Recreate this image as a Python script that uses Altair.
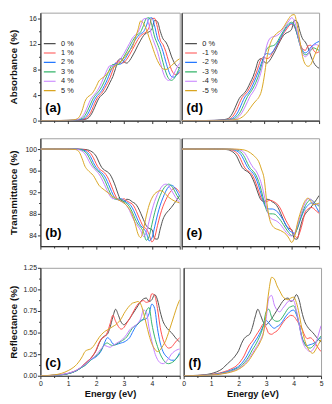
import altair as alt
import pandas as pd

# Photon energy grid (eV)
E = [0.0, 0.5, 1.0, 1.2, 1.3, 1.4, 1.5, 1.6, 1.7, 1.8,
     1.9, 2.0, 2.1, 2.2, 2.3, 2.4, 2.5, 2.6, 2.7, 2.8,
     2.9, 3.0, 3.1, 3.2, 3.3, 3.4, 3.5, 3.6, 3.7, 3.8,
     3.9, 4.0, 4.1, 4.2, 4.3, 4.4, 4.5, 4.6, 4.7, 4.8,
     4.9, 5.0]

POS_NAMES = ["0 %", "1 %", "2 %", "3 %", "4 %", "5 %"]
NEG_NAMES = ["0 %", "-1 %", "-2 %", "-3 %", "-4 %", "-5 %"]
COLORS = ["#505050", "#ff4d4d", "#2478ff", "#35b46a", "#c47dff", "#d9a521"]

# Absorbance (%)
abs_0 = [0, 0, 0.02, 0.03, 0.05, 0.08, 0.12, 0.2, 0.35, 0.8,
         1.6, 2.6, 3.5, 4.0, 4.4, 5.1, 6.0, 6.9, 8.2, 9.5,
         9.7, 9.2, 9.0, 9.4, 10.1, 10.9, 11.8, 12.6, 13.3, 13.7,
         13.9, 14.3, 15.7, 15.5, 14.0, 12.8, 12.3, 11.4, 10.1, 9.1,
         8.5, 8.2]
abs_p1 = [0, 0, 0.02, 0.04, 0.06, 0.1, 0.16, 0.28, 0.6, 1.2,
          2.2, 3.2, 3.9, 4.3, 5.0, 5.8, 6.7, 7.9, 9.0, 9.3,
          9.0, 9.1, 9.6, 10.3, 11.1, 11.9, 12.7, 13.3, 13.6, 13.9,
          14.6, 16.0, 16.0, 14.6, 12.6, 11.9, 10.8, 9.3, 8.0, 7.3,
          7.2, 7.6]
abs_p2 = [0, 0, 0.03, 0.05, 0.08, 0.13, 0.22, 0.45, 1.0, 1.9,
          2.9, 3.7, 4.2, 4.7, 5.5, 6.4, 7.5, 8.5, 9.0, 8.8,
          8.9, 9.4, 10.1, 10.9, 11.8, 12.6, 13.2, 13.6, 13.9, 14.8,
          16.0, 16.1, 14.8, 12.9, 12.0, 10.8, 9.2, 7.8, 6.9, 6.8,
          7.2, 7.9]
abs_p3 = [0, 0, 0.03, 0.06, 0.1, 0.18, 0.35, 0.8, 1.6, 2.6,
          3.5, 4.1, 4.6, 5.3, 6.2, 7.2, 8.2, 8.8, 8.7, 8.8,
          9.3, 10.0, 10.8, 11.6, 12.4, 13.1, 13.5, 13.9, 14.9, 16.0,
          16.1, 14.9, 13.1, 12.0, 10.8, 9.1, 7.6, 6.6, 6.3, 6.6,
          7.4, 8.4]
abs_p4 = [0, 0, 0.04, 0.08, 0.14, 0.28, 0.6, 1.3, 2.3, 3.3,
          3.9, 4.4, 5.1, 6.0, 7.0, 8.0, 8.6, 8.6, 8.7, 9.2,
          9.8, 10.5, 11.3, 12.1, 12.9, 13.4, 13.8, 14.8, 15.9, 16.0,
          14.9, 13.2, 12.0, 10.8, 9.2, 7.6, 6.6, 6.3, 6.6, 7.4,
          8.3, 9.0]
abs_p5 = [0, 0, 0.05, 0.12, 0.25, 0.6, 1.6, 3.0, 3.7, 4.0,
          4.5, 5.3, 6.2, 6.6, 6.9, 7.4, 7.9, 8.3, 8.6, 9.0,
          9.3, 9.8, 10.4, 11.0, 11.5, 12.8, 14.2, 15.6, 15.2, 14.3,
          13.0, 11.8, 10.5, 9.4, 8.6, 8.1, 8.0, 8.2, 8.6, 9.0,
          9.4, 9.7]
abs_m1 = [0, 0, 0.02, 0.03, 0.04, 0.06, 0.09, 0.14, 0.22, 0.4,
          0.9, 1.7, 2.7, 3.6, 4.1, 4.6, 5.4, 6.3, 7.3, 8.6,
          9.7, 9.9, 9.7, 9.9, 10.6, 11.3, 12.0, 12.8, 13.6, 14.2,
          14.8, 15.1, 14.7, 13.6, 12.2, 11.2, 11.0, 11.7, 11.8, 11.0,
          10.6, 10.8]
abs_m2 = [0, 0, 0.02, 0.03, 0.04, 0.05, 0.07, 0.1, 0.15, 0.25,
          0.5, 1.0, 1.8, 2.8, 3.7, 4.2, 4.8, 5.7, 6.7, 7.8,
          9.0, 10.1, 10.5, 10.4, 10.7, 11.4, 12.2, 13.0, 13.8, 14.5,
          15.0, 15.2, 14.8, 13.5, 12.0, 11.0, 10.6, 10.9, 11.5, 11.9,
          12.2, 12.4]
abs_m3 = [0, 0, 0.01, 0.02, 0.03, 0.04, 0.05, 0.07, 0.1, 0.17,
          0.3, 0.6, 1.1, 1.9, 2.9, 3.8, 4.4, 5.1, 6.0, 7.1,
          8.5, 10.0, 11.2, 11.6, 11.7, 11.9, 12.5, 13.3, 14.0, 14.7,
          15.2, 15.4, 15.0, 13.6, 11.9, 10.8, 10.3, 10.5, 11.0, 11.4,
          11.2, 11.0]
abs_m4 = [0, 0, 0.01, 0.02, 0.02, 0.03, 0.04, 0.05, 0.07, 0.1,
          0.18, 0.35, 0.7, 1.3, 2.1, 3.0, 3.9, 4.5, 5.3, 6.4,
          7.8, 9.8, 11.8, 12.8, 13.1, 13.2, 13.4, 13.8, 14.4, 15.0,
          15.6, 16.1, 15.6, 14.0, 12.0, 10.5, 10.0, 10.4, 11.2, 11.8,
          11.9, 11.6]
abs_m5 = [0, 0, 0.01, 0.01, 0.02, 0.02, 0.03, 0.04, 0.05, 0.07,
          0.1, 0.18, 0.3, 0.55, 0.9, 1.4, 2.0, 2.6, 3.1, 3.6,
          4.6, 6.8, 9.8, 11.7, 12.8, 13.4, 13.8, 14.1, 14.6, 15.3,
          16.0, 16.5, 16.6, 15.0, 12.5, 10.0, 8.8, 8.5, 8.8, 9.8,
          10.9, 11.9]

# Transmittance (%)
tra_0 = [100, 100, 100, 100, 100, 99.99, 99.97, 99.93, 99.85, 99.65,
         99.3, 98.7, 97.6, 96.6, 96.1, 95.8, 95.3, 94.3, 93.0, 91.5,
         90.5, 90.3, 90.7, 90.6, 90.2, 89.9, 89.2, 88.1, 86.9, 85.8,
         85.3, 85.1, 83.4, 83.3, 85.2, 87.0, 88.0, 88.6, 89.2, 89.9,
         90.6, 91.4]
tra_p1 = [100, 100, 100, 100, 99.99, 99.97, 99.93, 99.85, 99.65, 99.2,
          98.4, 97.3, 96.4, 96.0, 95.6, 94.9, 93.8, 92.5, 91.3, 90.6,
          90.6, 90.8, 90.4, 90.1, 89.8, 89.0, 87.8, 86.6, 85.6, 85.2,
          84.2, 82.8, 83.6, 85.8, 87.8, 89.4, 90.6, 91.6, 92.3, 92.8,
          92.6, 91.9]
tra_p2 = [100, 100, 100, 100, 99.98, 99.95, 99.88, 99.7, 99.3, 98.6,
          97.5, 96.6, 96.0, 95.6, 95.0, 94.0, 92.8, 91.6, 90.8, 90.6,
          90.8, 90.5, 90.1, 89.8, 89.1, 88.0, 86.8, 85.8, 85.3, 84.5,
          83.0, 83.5, 85.6, 87.8, 89.6, 91.0, 92.2, 93.0, 93.3, 93.0,
          92.2, 91.2]
tra_p3 = [100, 100, 100, 99.99, 99.97, 99.92, 99.8, 99.5, 98.9, 97.9,
          96.9, 96.2, 95.8, 95.2, 94.3, 93.1, 91.9, 91.0, 90.7, 90.9,
          90.6, 90.2, 89.9, 89.3, 88.3, 87.1, 86.1, 85.5, 84.6, 83.1,
          83.8, 86.0, 88.2, 90.0, 91.4, 92.5, 93.2, 93.5, 93.2, 92.4,
          91.4, 90.6]
tra_p4 = [100, 100, 100, 99.98, 99.95, 99.85, 99.6, 99.1, 98.2, 97.2,
          96.5, 96.0, 95.4, 94.5, 93.4, 92.3, 91.3, 90.8, 90.9, 90.7,
          90.3, 90.0, 89.5, 88.6, 87.4, 86.4, 85.7, 84.9, 83.8, 84.6,
          86.6, 88.6, 90.3, 91.6, 92.6, 93.3, 93.5, 93.2, 92.4, 91.5,
          90.7, 90.1]
tra_p5 = [100, 100, 99.99, 99.95, 99.85, 99.4, 98.2, 96.8, 96.1, 95.6,
          95.1, 94.2, 93.3, 92.8, 92.4, 92.0, 91.6, 91.2, 90.9, 90.6,
          90.3, 90.0, 89.5, 88.8, 87.8, 86.2, 84.3, 83.6, 85.2, 87.6,
          89.6, 90.9, 91.7, 92.1, 92.3, 92.1, 91.6, 91.1, 90.7, 90.4,
          90.2, 90.0]
tra_m1 = [100, 100, 100, 100, 100, 100, 99.99, 99.97, 99.93, 99.85,
          99.65, 99.3, 98.6, 97.5, 96.5, 96.0, 95.6, 94.9, 93.7, 92.2,
          90.8, 90.2, 90.3, 90.5, 90.4, 90.1, 89.7, 88.9, 87.8, 86.7,
          85.8, 84.9, 84.0, 83.6, 84.6, 86.4, 88.4, 88.9, 89.2, 89.0,
          88.5, 88.1]
tra_m2 = [100, 100, 100, 100, 100, 100, 100, 99.99, 99.97, 99.93,
          99.85, 99.65, 99.3, 98.6, 97.6, 96.6, 96.0, 95.5, 94.6, 93.2,
          91.5, 89.8, 89.0, 88.9, 88.9, 88.7, 88.3, 87.6, 86.8, 85.9,
          85.0, 84.6, 84.4, 85.2, 86.6, 88.0, 89.0, 89.6, 90.0, 90.0,
          89.2, 88.3]
tra_m3 = [100, 100, 100, 100, 100, 100, 100, 100, 99.99, 99.97,
          99.93, 99.85, 99.65, 99.2, 98.4, 97.3, 96.4, 95.9, 95.2, 94.0,
          92.3, 90.2, 88.5, 88.0, 88.0, 87.9, 87.4, 86.8, 86.0, 85.2,
          84.5, 84.0, 84.1, 85.2, 86.8, 88.3, 89.5, 90.3, 90.6, 90.3,
          89.8, 89.4]
tra_m4 = [100, 100, 100, 100, 100, 100, 100, 100, 100, 99.99,
          99.97, 99.93, 99.85, 99.65, 99.2, 98.4, 97.4, 96.6, 96.0, 95.0,
          93.6, 91.5, 88.9, 87.4, 87.0, 86.8, 86.5, 86.0, 85.3, 84.6,
          84.1, 83.9, 84.3, 85.6, 87.3, 88.9, 90.1, 90.8, 90.7, 90.1,
          89.7, 89.8]
tra_m5 = [100, 100, 100, 100, 100, 100, 100, 100, 100, 100,
          99.99, 99.98, 99.95, 99.9, 99.8, 99.6, 99.3, 98.9, 98.4, 97.7,
          96.3, 94.5, 90.0, 87.0, 85.8, 85.3, 85.1, 84.9, 84.6, 84.2,
          83.5, 82.7, 83.6, 86.0, 87.9, 89.4, 90.5, 90.9, 90.3, 89.7,
          89.8, 90.0]

# Reflectance (%)
ref_0 = [0, 0.005, 0.025, 0.045, 0.06, 0.08, 0.11, 0.14, 0.17, 0.2,
         0.24, 0.29, 0.37, 0.43, 0.46, 0.48, 0.56, 0.68, 0.77, 0.7,
         0.62, 0.59, 0.62, 0.66, 0.71, 0.76, 0.81, 0.86, 0.89, 0.9,
         0.86, 0.88, 0.94, 0.88, 0.74, 0.63, 0.57, 0.53, 0.5, 0.46,
         0.42, 0.39]
ref_p1 = [0, 0.006, 0.028, 0.05, 0.065, 0.085, 0.11, 0.14, 0.17, 0.2,
          0.24, 0.3, 0.38, 0.43, 0.45, 0.5, 0.6, 0.7, 0.63, 0.57,
          0.54, 0.56, 0.61, 0.66, 0.72, 0.78, 0.83, 0.86, 0.87, 0.85,
          0.86, 0.95, 0.93, 0.78, 0.56, 0.42, 0.35, 0.32, 0.33, 0.37,
          0.41, 0.44]
ref_p2 = [0, 0.005, 0.025, 0.045, 0.06, 0.08, 0.1, 0.12, 0.15, 0.18,
          0.2, 0.22, 0.25, 0.3, 0.38, 0.44, 0.42, 0.37, 0.36, 0.37,
          0.38, 0.39, 0.41, 0.44, 0.5, 0.56, 0.6, 0.64, 0.65, 0.66,
          0.72, 0.83, 0.78, 0.55, 0.38, 0.28, 0.23, 0.2, 0.18, 0.18,
          0.21, 0.27]
ref_p3 = [0, 0.005, 0.025, 0.045, 0.06, 0.08, 0.1, 0.12, 0.15, 0.18,
          0.21, 0.23, 0.26, 0.31, 0.36, 0.38, 0.36, 0.35, 0.36, 0.38,
          0.4, 0.42, 0.45, 0.5, 0.55, 0.58, 0.6, 0.63, 0.66, 0.75,
          0.79, 0.6, 0.45, 0.34, 0.25, 0.19, 0.15, 0.14, 0.15, 0.17,
          0.21, 0.25]
ref_p4 = [0, 0.006, 0.03, 0.05, 0.065, 0.085, 0.11, 0.13, 0.16, 0.19,
          0.21, 0.24, 0.28, 0.32, 0.35, 0.34, 0.33, 0.35, 0.37, 0.39,
          0.41, 0.44, 0.48, 0.53, 0.56, 0.58, 0.61, 0.66, 0.76, 0.74,
          0.55, 0.4, 0.27, 0.19, 0.15, 0.14, 0.16, 0.2, 0.25, 0.28,
          0.3, 0.31]
ref_p5 = [0, 0.01, 0.06, 0.1, 0.13, 0.17, 0.22, 0.28, 0.3, 0.31,
          0.34, 0.39, 0.44, 0.48, 0.51, 0.53, 0.55, 0.57, 0.59, 0.62,
          0.66, 0.72, 0.77, 0.81, 0.84, 0.85, 0.86, 0.83, 0.73, 0.6,
          0.47, 0.37, 0.31, 0.28, 0.3, 0.35, 0.41, 0.5, 0.6, 0.7,
          0.8, 0.88]
ref_m1 = [0, 0.003, 0.015, 0.025, 0.032, 0.04, 0.05, 0.06, 0.075, 0.09,
          0.11, 0.14, 0.18, 0.23, 0.3, 0.36, 0.4, 0.45, 0.5, 0.55,
          0.6, 0.56, 0.49, 0.48, 0.5, 0.52, 0.56, 0.61, 0.65, 0.68,
          0.7, 0.69, 0.65, 0.6, 0.55, 0.47, 0.43, 0.44, 0.42, 0.37,
          0.32, 0.28]
ref_m2 = [0, 0.002, 0.012, 0.02, 0.026, 0.033, 0.04, 0.05, 0.062, 0.075,
          0.09, 0.11, 0.14, 0.18, 0.23, 0.29, 0.35, 0.4, 0.45, 0.51,
          0.58, 0.64, 0.61, 0.57, 0.55, 0.57, 0.59, 0.63, 0.68, 0.72,
          0.75, 0.76, 0.71, 0.6, 0.45, 0.38, 0.35, 0.36, 0.37, 0.39,
          0.42, 0.44]
ref_m3 = [0, 0.002, 0.01, 0.017, 0.022, 0.028, 0.035, 0.043, 0.053, 0.065,
          0.08, 0.095, 0.12, 0.15, 0.19, 0.24, 0.3, 0.35, 0.41, 0.48,
          0.58, 0.74, 0.77, 0.68, 0.64, 0.63, 0.64, 0.68, 0.73, 0.78,
          0.8, 0.81, 0.74, 0.6, 0.45, 0.37, 0.33, 0.32, 0.34, 0.38,
          0.42, 0.46]
ref_m4 = [0, 0.002, 0.009, 0.015, 0.02, 0.025, 0.03, 0.038, 0.047, 0.058,
          0.07, 0.085, 0.105, 0.13, 0.17, 0.21, 0.26, 0.31, 0.36, 0.42,
          0.5, 0.66, 0.9, 0.93, 0.82, 0.76, 0.74, 0.78, 0.82, 0.86,
          0.87, 0.87, 0.76, 0.6, 0.43, 0.34, 0.3, 0.28, 0.3, 0.36,
          0.47, 0.58]
ref_m5 = [0, 0.002, 0.008, 0.013, 0.017, 0.022, 0.027, 0.033, 0.04, 0.05,
          0.06, 0.075, 0.095, 0.12, 0.15, 0.19, 0.24, 0.29, 0.34, 0.4,
          0.49, 0.72, 0.98, 1.14, 1.12, 1.04, 0.98, 0.92, 0.89, 0.88,
          0.9, 0.91, 0.85, 0.72, 0.55, 0.42, 0.33, 0.28, 0.26, 0.3,
          0.36, 0.42]

X_TICKS = [i * 0.5 for i in range(11)]
FONT = "Liberation Sans"
W_LEFT, W_RIGHT, H = 142, 140, 110


def long_df(names, series):
    rows = []
    for name, vals in zip(names, series):
        for e, v in zip(E, vals):
            rows.append({"E": e, "v": v, "s": name})
    return pd.DataFrame(rows)


def cell(names, series, label, ytitle, ydom, yvals, ylab, ytest, left, bottom, legend):
    df = long_df(names, series)
    x_expr = ("datum.value % 1 === 0 && datum.value < 5 ? format(datum.value, 'd') : ''"
              if left else "datum.value % 1 === 0 ? format(datum.value, 'd') : ''")
    xaxis = alt.Axis(values=X_TICKS, labels=bottom, labelExpr=x_expr,
                     title="Energy (eV)" if bottom else None, titleFontSize=9.5,
                     tickSize={"condition": {"test": "datum.value % 1 === 0", "value": 3}, "value": 1.8},
                     labelFlush=False, labelOverlap=False)
    if left:
        yaxis = alt.Axis(values=yvals, labelExpr=ylab, title=ytitle, titleX=-22, titleFontSize=10,
                         tickSize={"condition": {"test": ytest, "value": 3}, "value": 1.8},
                         labelFlush=False, labelOverlap=False)
    else:
        yaxis = alt.Axis(labels=False, ticks=False, title=None)
    if legend:
        leg = alt.Legend(title=None, orient="none", legendX=2.5, legendY=27,
                         symbolType="stroke", symbolSize=144, symbolStrokeWidth=1.2,
                         labelFontSize=7.5, labelFont=FONT, labelColor="#222",
                         clipHeight=9, rowPadding=0.6, labelOffset=4.5, padding=0)
    else:
        leg = None
    lines = alt.Chart(df).mark_line(strokeWidth=1, interpolate="monotone", clip=True).encode(
        x=alt.X("E:Q", scale=alt.Scale(domain=[0, 5], nice=False), axis=xaxis),
        y=alt.Y("v:Q", scale=alt.Scale(domain=ydom, nice=False, zero=False), axis=yaxis),
        color=alt.Color("s:N", scale=alt.Scale(domain=names, range=COLORS), sort=names, legend=leg),
    )
    txt = alt.Chart(pd.DataFrame({"t": [label]})).mark_text(
        align="left", baseline="middle", fontSize=13, fontWeight="bold", font=FONT, color="#000"
    ).encode(text="t:N", x=alt.value(5), y=alt.value(97))
    return alt.layer(lines, txt).properties(width=W_LEFT if left else W_RIGHT, height=H)


rows_spec = [
    ("Absorbance (%)", [0, 16.9], list(range(0, 17, 2)),
     "datum.value % 4 === 0 ? format(datum.value, 'd') : ''", "datum.value % 4 === 0",
     [abs_0, abs_p1, abs_p2, abs_p3, abs_p4, abs_p5],
     [abs_0, abs_m1, abs_m2, abs_m3, abs_m4, abs_m5], "(a)", "(d)"),
    ("Transmittance (%)", [82, 102], list(range(84, 101, 2)),
     "datum.value % 4 === 0 ? format(datum.value, 'd') : ''", "datum.value % 4 === 0",
     [tra_0, tra_p1, tra_p2, tra_p3, tra_p4, tra_p5],
     [tra_0, tra_m1, tra_m2, tra_m3, tra_m4, tra_m5], "(b)", "(e)"),
    ("Reflectance (%)", [0, 1.25], [i * 0.125 for i in range(11)],
     "(datum.value * 4) % 1 === 0 ? format(datum.value, '.2f') : ''", "(datum.value * 4) % 1 === 0",
     [ref_0, ref_p1, ref_p2, ref_p3, ref_p4, ref_p5],
     [ref_0, ref_m1, ref_m2, ref_m3, ref_m4, ref_m5], "(c)", "(f)"),
]

rows = []
for i, (yt, yd, yv, yl, ytest, pos, neg, la, lb) in enumerate(rows_spec):
    bottom = i == 2
    legend = i == 0
    lc = cell(POS_NAMES, pos, la, yt, yd, yv, yl, ytest, True, bottom, legend)
    rc = cell(NEG_NAMES, neg, lb, yt, yd, yv, yl, ytest, False, bottom, legend)
    rows.append(alt.hconcat(lc, rc, spacing=0).resolve_scale(color="independent"))

chart = alt.vconcat(*rows, spacing=13).resolve_scale(color="independent").properties(
    padding={"left": 0, "right": 0, "top": 0, "bottom": 0}
).configure_view(stroke="#a0a0a0", strokeWidth=1).configure_axis(
    labelFont=FONT, titleFont=FONT, labelFontSize=7, titleFontSize=9,
    titleFontWeight="bold", labelColor="#222", titleColor="#111",
    tickColor="#333", domainColor="#333", domainWidth=1.2, grid=False,
    labelPadding=1, titlePadding=2,
)

chart.save("out.html", embed_options={"renderer": "svg", "actions": False})
